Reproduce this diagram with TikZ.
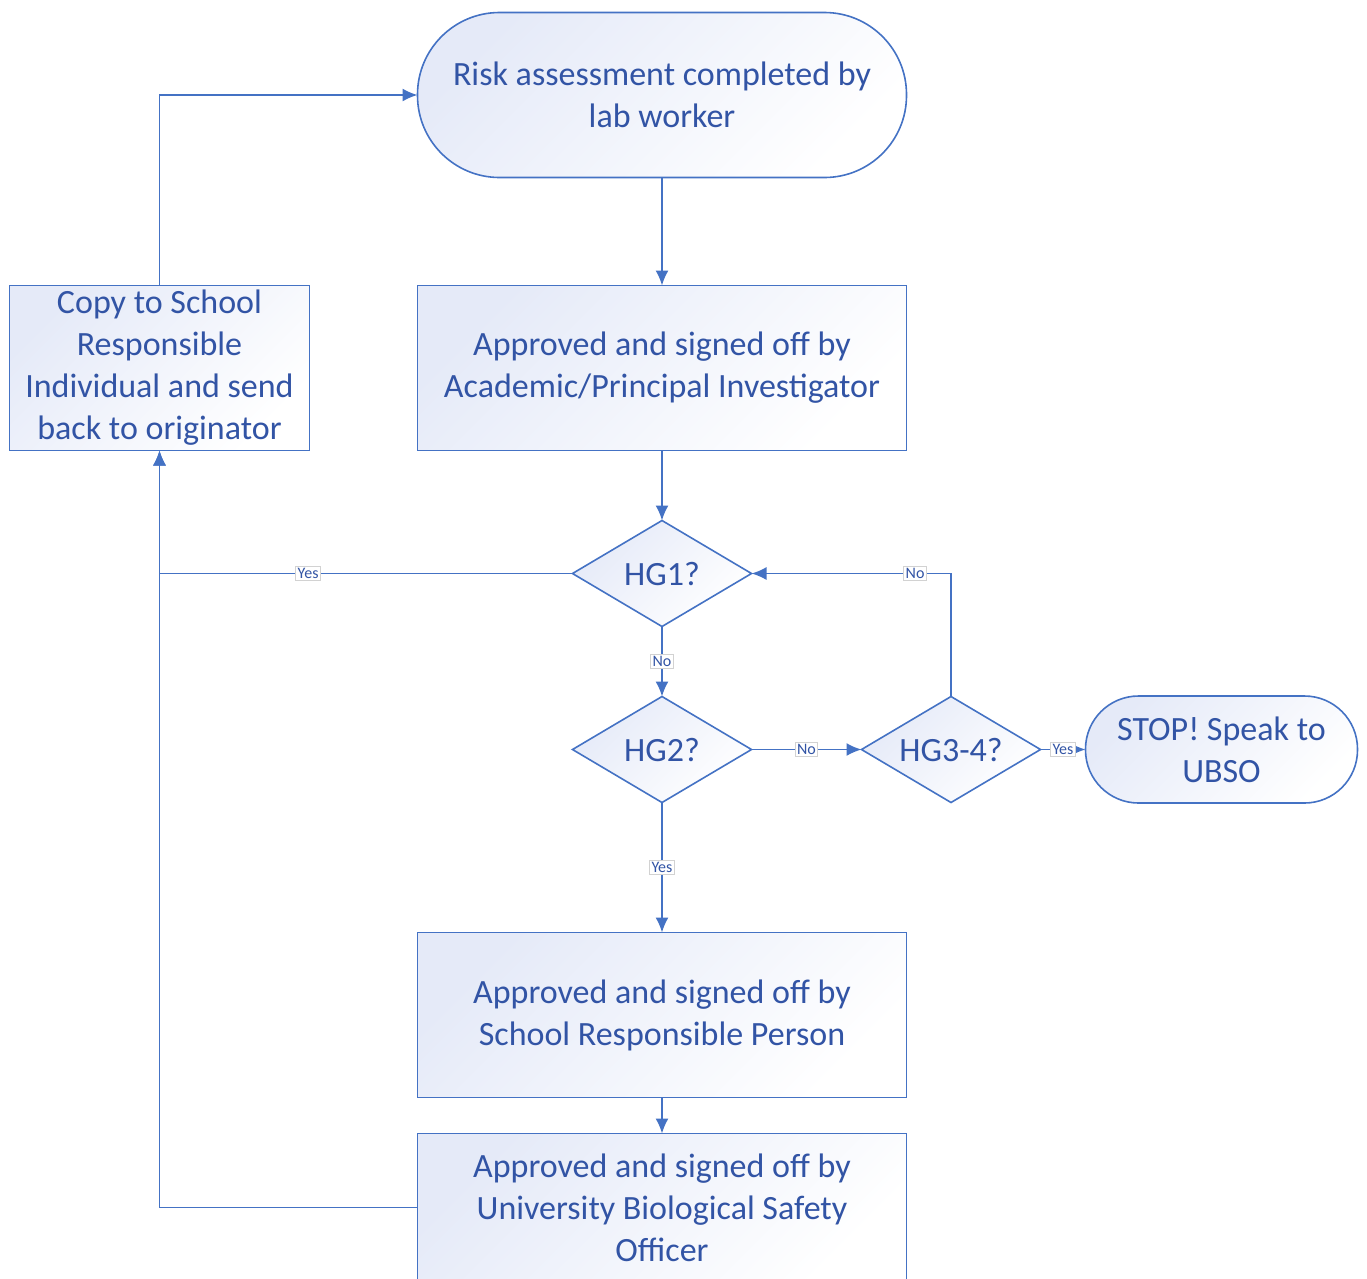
\documentclass[tikz,border=0pt]{standalone}
\usepackage{fontspec}
\setmainfont{Carlito}
\usetikzlibrary{positioning,shapes.geometric,arrows.meta}
\definecolor{flowblue}{RGB}{68,114,196}
\definecolor{flowtext}{RGB}{50,84,165}
\definecolor{flowfill}{RGB}{229,234,248}

\begin{document}
\begin{tikzpicture}[x=1pt,y=-1pt,line width=1.6pt,>={Latex[length=15pt,width=13pt]},
  shaded/.style={draw=flowblue,top color=flowfill,bottom color=white,shading angle=45,
    align=center,text=flowtext,inner sep=0pt,outer sep=0pt,font=\fontsize{34}{42}\selectfont},
  box/.style={shaded,minimum width=489pt,minimum height=165pt},
  term/.style={shaded,rounded corners=82pt,minimum width=489pt,minimum height=165pt},
  decision/.style={shaded,diamond,aspect=1.7,minimum width=179pt,minimum height=106pt},
  lbl/.style={draw=gray!35,fill=white,line width=0.8pt,inner sep=2pt,text=flowtext,
    font=\fontsize{16}{17}\selectfont}]
\useasboundingbox (0,0) rectangle (1367,1278);

\node[term] (start) at (662,95) {Risk assessment completed by\\lab worker};
\node[box,below=108pt of start] (pi) {Approved and signed off by\\Academic/Principal Investigator};
\node[box,minimum width=300pt,left=108pt of pi] (copy) {Copy to School\\Responsible\\Individual and send\\back to originator};
\node[decision,below=70pt of pi] (hg1) {HG1?};
\node[decision,below=70pt of hg1] (hg2) {HG2?};
\node[decision,right=110pt of hg2] (hg3) {HG3-4?};
\node[term,rounded corners=53pt,minimum width=272pt,minimum height=107pt,right=45pt of hg3] (stop) {STOP! Speak to\\UBSO};
\node[box,below=130pt of hg2] (srp) {Approved and signed off by\\School Responsible Person};
\node[box,minimum height=148pt,below=36pt of srp] (ubso) {Approved and signed off by\\University Biological Safety\\Officer};

\draw[->,flowblue] (start) -- (pi);
\draw[->,flowblue] (pi) -- (hg1);
\draw[->,flowblue] (hg1) -- node[lbl] {No} (hg2);
\draw[->,flowblue] (hg2) -- node[lbl] {No} (hg3);
\draw[->,flowblue] (hg3) -- node[lbl] {Yes} (stop);
\draw[->,flowblue] (hg3.north) |- node[lbl,pos=0.59] {No} (hg1.east);
\draw[->,flowblue] (hg2) -- node[lbl] {Yes} (srp);
\draw[->,flowblue] (srp) -- (ubso);
\draw[->,flowblue] (hg1.west) -| node[lbl,pos=0.32] {Yes} (copy.south);
\draw[->,flowblue] (ubso.west) -| (copy.south);
\draw[->,flowblue] (copy.north) |- (start.west);
\end{tikzpicture}
\end{document}
